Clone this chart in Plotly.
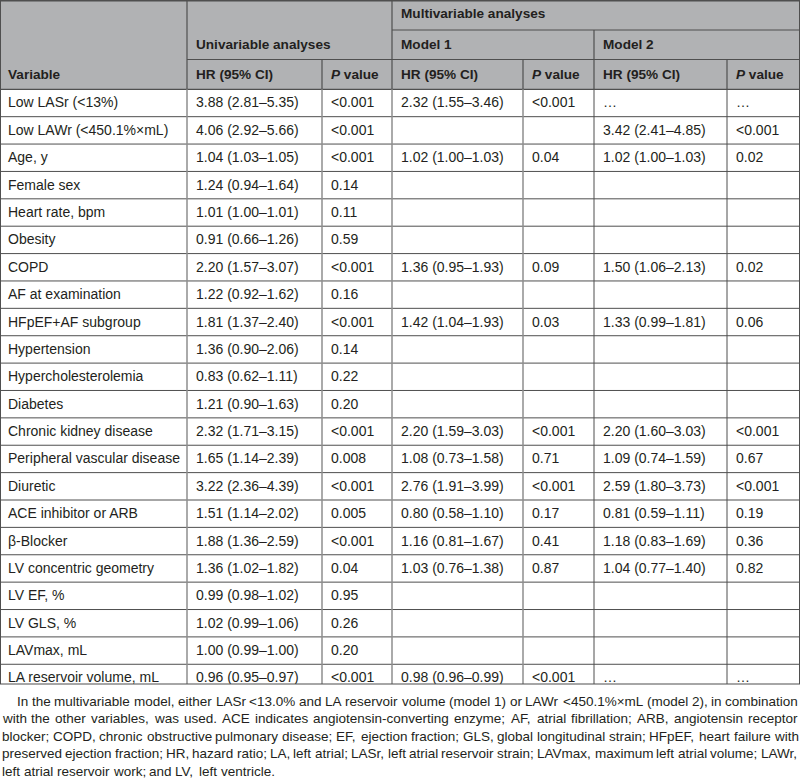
import plotly.graph_objects as go

# ---------------- data ----------------
variables = ["Low LASr (<13%)", "Low LAWr (<450.1%×mL)", "Age, y", "Female sex", "Heart rate, bpm",
             "Obesity", "COPD", "AF at examination", "HFpEF+AF subgroup", "Hypertension",
             "Hypercholesterolemia", "Diabetes", "Chronic kidney disease", "Peripheral vascular disease",
             "Diuretic", "ACE inhibitor or ARB", "β-Blocker", "LV concentric geometry", "LV EF, %",
             "LV GLS, %", "LAVmax, mL", "LA reservoir volume, mL"]
uni_hr = ["3.88 (2.81–5.35)", "4.06 (2.92–5.66)", "1.04 (1.03–1.05)", "1.24 (0.94–1.64)",
          "1.01 (1.00–1.01)", "0.91 (0.66–1.26)", "2.20 (1.57–3.07)", "1.22 (0.92–1.62)",
          "1.81 (1.37–2.40)", "1.36 (0.90–2.06)", "0.83 (0.62–1.11)", "1.21 (0.90–1.63)",
          "2.32 (1.71–3.15)", "1.65 (1.14–2.39)", "3.22 (2.36–4.39)", "1.51 (1.14–2.02)",
          "1.88 (1.36–2.59)", "1.36 (1.02–1.82)", "0.99 (0.98–1.02)", "1.02 (0.99–1.06)",
          "1.00 (0.99–1.00)", "0.96 (0.95–0.97)"]
uni_p = ["<0.001", "<0.001", "<0.001", "0.14", "0.11", "0.59", "<0.001", "0.16", "<0.001", "0.14",
         "0.22", "0.20", "<0.001", "0.008", "<0.001", "0.005", "<0.001", "0.04", "0.95", "0.26",
         "0.20", "<0.001"]
m1_hr = ["2.32 (1.55–3.46)", "", "1.02 (1.00–1.03)", "", "", "", "1.36 (0.95–1.93)", "",
         "1.42 (1.04–1.93)", "", "", "", "2.20 (1.59–3.03)", "1.08 (0.73–1.58)", "2.76 (1.91–3.99)",
         "0.80 (0.58–1.10)", "1.16 (0.81–1.67)", "1.03 (0.76–1.38)", "", "", "", "0.98 (0.96–0.99)"]
m1_p = ["<0.001", "", "0.04", "", "", "", "0.09", "", "0.03", "", "", "", "<0.001", "0.71", "<0.001",
        "0.17", "0.41", "0.87", "", "", "", "<0.001"]
m2_hr = ["…", "3.42 (2.41–4.85)", "1.02 (1.00–1.03)", "", "", "", "1.50 (1.06–2.13)", "",
         "1.33 (0.99–1.81)", "", "", "", "2.20 (1.60–3.03)", "1.09 (0.74–1.59)", "2.59 (1.80–3.73)",
         "0.81 (0.59–1.11)", "1.18 (0.83–1.69)", "1.04 (0.77–1.40)", "", "", "", "…"]
m2_p = ["…", "<0.001", "0.02", "", "", "", "0.02", "", "0.06", "", "", "", "<0.001", "0.67", "<0.001",
        "0.19", "0.36", "0.82", "", "", "", "…"]

header_top = "Multivariable analyses"
header_mid = ["Univariable analyses", "Model 1", "Model 2"]
header_low = ["Variable", "HR (95% CI)", "<i>P</i> value", "HR (95% CI)", "<i>P</i> value",
              "HR (95% CI)", "<i>P</i> value"]

caption_lines = [
    "In the multivariable model, either LASr <13.0% and LA reservoir volume (model 1) or LAWr <450.1%×mL (model 2), in combination",
    "with the other variables, was used. ACE indicates angiotensin-converting enzyme; AF, atrial fibrillation; ARB, angiotensin receptor",
    "blocker; COPD, chronic obstructive pulmonary disease; EF, ejection fraction; GLS, global longitudinal strain; HFpEF, heart failure with",
    "preserved ejection fraction; HR, hazard ratio; LA, left atrial; LASr, left atrial reservoir strain; LAVmax, maximum left atrial volume; LAWr,",
    "left atrial reservoir work; and LV, left ventricle.",
]

# ---------------- layout geometry ----------------
W, H = 800, 784
col_x = [0, 187, 322, 392, 523, 594, 727, 800]
hdr_y = [0, 30, 59.5, 89.3]
row_h = 27.38
table_bottom = 684
pad = 9
FONT = "Liberation Sans, Arial, sans-serif"
TXT = "#231f20"
HDR_BG = "#b1b2b4"
DARK = "#4f4f4f"
LIGHT = "#8e8e8e"

n = len(variables)
row_c = [hdr_y[3] + row_h * (i + 0.5) + 1 for i in range(n)]


def esc(s):
    return s.replace("<", "&lt;") if "<i>" not in s else s


fig = go.Figure()

columns = [variables, uni_hr, uni_p, m1_hr, m1_p, m2_hr, m2_p]
for ci, vals in enumerate(columns):
    xs, ys, ts = [], [], []
    for ri, v in enumerate(vals):
        if v:
            xs.append(col_x[ci] + (8 if ci == 0 else pad))
            ys.append(row_c[ri])
            ts.append(esc(v))
    fig.add_trace(go.Scatter(x=xs, y=ys, text=ts, mode="text", textposition="middle right",
                             textfont=dict(family=FONT, size=14, color=TXT),
                             hoverinfo="skip", showlegend=False, cliponaxis=False))

# header texts
hx = [col_x[3] + pad]
hy = [15]
ht = [header_top]
for j, t in enumerate(header_mid):
    hx.append([col_x[1], col_x[3], col_x[5]][j] + pad)
    hy.append(46)
    ht.append(t)
for j, t in enumerate(header_low):
    hx.append(col_x[j] + (8 if j == 0 else pad))
    hy.append(75.5)
    ht.append(t)
fig.add_trace(go.Scatter(x=hx, y=hy, text=["<b>" + t + "</b>" for t in ht], mode="text",
                         textposition="middle right",
                         textfont=dict(family=FONT, size=13.6, color=TXT),
                         hoverinfo="skip", showlegend=False, cliponaxis=False))

shapes = []
shapes.append(dict(type="rect", x0=0, x1=W, y0=0, y1=hdr_y[3], fillcolor=HDR_BG,
                   line=dict(width=0), layer="below"))


def hline(y, x0, x1, color=DARK, w=1, layer="below"):
    shapes.append(dict(type="line", x0=x0, x1=x1, y0=y, y1=y, line=dict(color=color, width=w),
                       layer=layer))


def vline(x, y0, y1, color=DARK, w=1):
    shapes.append(dict(type="line", x0=x, x1=x, y0=y0, y1=y1, line=dict(color=color, width=w),
                       layer="below"))


hline(0.7, 0, W, w=1.4)
hline(hdr_y[1], col_x[3], W)
hline(hdr_y[2], col_x[1], W)
hline(hdr_y[3], 0, W, w=1.2)
for i in range(1, n):
    hline(hdr_y[3] + row_h * i, 0, W)

# vertical rules: header part dark, body part per column
for x in [0.5, W - 0.5]:
    vline(x, 0, table_bottom, color=DARK, w=1)
vline(col_x[1], 0, hdr_y[3], color=DARK, w=1.2)
vline(col_x[3], 0, hdr_y[3], color=DARK, w=1.2)
vline(col_x[5], hdr_y[1], hdr_y[3], color=DARK, w=1.2)
for x in [col_x[2], col_x[4], col_x[6]]:
    vline(x, hdr_y[2], hdr_y[3], color=DARK, w=1.2)
for x in [col_x[1], col_x[2], col_x[3], col_x[4]]:
    vline(x, hdr_y[3], table_bottom, color=LIGHT, w=1.5)
for x in [col_x[5], col_x[6]]:
    vline(x, hdr_y[3], table_bottom, color=DARK, w=1)

# cut-off of the table and the caption area
shapes.append(dict(type="rect", x0=0, x1=W, y0=table_bottom, y1=H, fillcolor="white",
                   line=dict(width=0), layer="above"))
hline(table_bottom, 0, W, w=1.2, layer="above")

# ---------------- caption (justified) ----------------
AW = {' ': 278, '!': 278, '%': 889, '(': 333, ')': 333, ',': 278, '-': 333, '.': 278, ':': 278,
      ';': 278, '<': 584, '×': 584, '+': 584,
      'A': 667, 'B': 667, 'C': 722, 'D': 722, 'E': 667, 'F': 611, 'G': 778, 'H': 722, 'I': 278,
      'J': 500, 'K': 667, 'L': 556, 'M': 833, 'N': 722, 'O': 778, 'P': 667, 'Q': 778, 'R': 722,
      'S': 667, 'T': 611, 'U': 722, 'V': 667, 'W': 944, 'X': 667, 'Y': 667, 'Z': 611,
      'a': 556, 'b': 556, 'c': 500, 'd': 556, 'e': 556, 'f': 278, 'g': 556, 'h': 556, 'i': 222,
      'j': 222, 'k': 500, 'l': 222, 'm': 833, 'n': 556, 'o': 556, 'p': 556, 'q': 556, 'r': 333,
      's': 500, 't': 278, 'u': 556, 'v': 500, 'w': 722, 'x': 500, 'y': 500, 'z': 500}


def tw(s, size):
    return sum(AW.get(c, 556) for c in s) / 1000.0 * size


cap_size = 13.5
cap_y0 = 701
cap_dy = 17.5
annotations = []
for li, line in enumerate(caption_lines):
    words = line.split(" ")
    left = 17 if li == 0 else 2
    right = 798
    y = cap_y0 + li * cap_dy
    if li < len(caption_lines) - 1:
        total = sum(tw(w, cap_size) for w in words)
        gap = (right - left - total) / (len(words) - 1)
    else:
        gap = tw(" ", cap_size)
    x = left
    for w in words:
        annotations.append(dict(x=x, y=y, xref="x", yref="y", text=w.replace("<", "&lt;"),
                                showarrow=False, xanchor="left", yanchor="middle",
                                borderpad=0, borderwidth=0,
                                font=dict(family=FONT, size=cap_size, color=TXT)))
        x += tw(w, cap_size) + gap

fig.update_layout(
    width=W, height=H, margin=dict(l=0, r=0, t=0, b=0),
    paper_bgcolor="white", plot_bgcolor="white",
    xaxis=dict(range=[0, W], visible=False, fixedrange=True),
    yaxis=dict(range=[H, 0], visible=False, fixedrange=True),
    shapes=shapes, annotations=annotations, showlegend=False,
)

fig.write_html(
    "out.html",
    config={"displayModeBar": False},
    post_script="document.body.style.margin='0';document.body.style.padding='0';"
                "document.body.style.overflow='hidden';",
)
